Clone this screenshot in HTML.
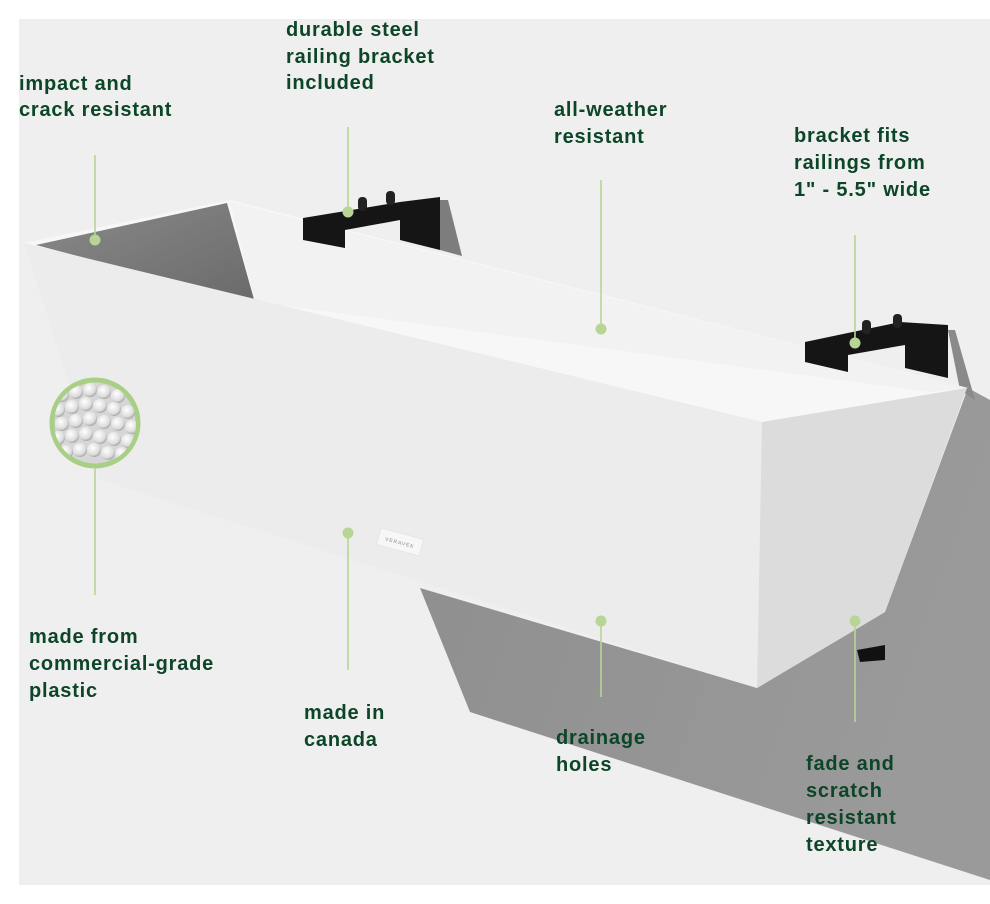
<!DOCTYPE html>
<html><head><meta charset="utf-8"><style>
html,body{margin:0;padding:0;background:#fff;}
body{width:990px;height:904px;position:relative;overflow:hidden;font-family:"Liberation Sans",sans-serif;}
svg{position:absolute;left:0;top:0;}
</style></head><body>
<svg width="990" height="904" viewBox="0 0 990 904" xmlns="http://www.w3.org/2000/svg">
<defs>
<linearGradient id="shadow" x1="0" y1="0" x2="1" y2="0.3">
<stop offset="0" stop-color="#8e8e8e"/><stop offset="1" stop-color="#9a9a9a"/>
</linearGradient>
<linearGradient id="inner" x1="0" y1="0" x2="1" y2="1">
<stop offset="0" stop-color="#8a8a8a"/><stop offset="1" stop-color="#6a6a6a"/>
</linearGradient>
<radialGradient id="ball" cx="0.4" cy="0.35" r="0.7">
<stop offset="0" stop-color="#ffffff"/><stop offset="0.7" stop-color="#dcdcdc"/><stop offset="1" stop-color="#9a9a9a"/>
</radialGradient>
<clipPath id="circ"><circle cx="95" cy="423" r="41"/></clipPath>
</defs>
<rect x="19" y="19" width="971" height="866" fill="#efefef"/>
<polygon points="420,588 757,688 885,612 968,388 990,400 990,880 470,712" fill="url(#shadow)"/>
<polygon points="440,200 448,200 462,256 440,250" fill="#7d7d7d"/>
<polygon points="948,330 955,330 975,400 960,390" fill="#8a8a8a"/>
<polygon points="24,243 230,200 968,388 762,422" fill="#f7f7f7"/>
<polygon points="230,202 968,388 930,392 255,302" fill="#f2f2f2"/>
<polygon points="36,245 227,203 255,303" fill="url(#inner)"/>
<polygon points="24,243 762,422 757,688 100,480" fill="#ececec"/>
<polygon points="762,422 967,388 885,612 757,688" fill="#dcdcdc"/>
<polygon points="857,650 885,645 885,660 860,662" fill="#111"/>
<g transform="translate(381,528) rotate(15)"><rect width="44" height="17" fill="#f7f7f7" stroke="#ddd" stroke-width="0.5"/><text x="22" y="11" font-size="5" text-anchor="middle" fill="#888" letter-spacing="1">VERAVEK</text></g>
<polygon points="303,218 400,202 440,197 440,250 400,240 400,220 345,230 345,248 303,240" fill="#151515"/>
<rect x="358" y="197" width="9" height="14" rx="4" fill="#222"/>
<rect x="386" y="191" width="9" height="14" rx="4" fill="#222"/>
<polygon points="805,342 900,322 948,325 948,378 905,368 905,345 848,355 848,372 805,362" fill="#151515"/>
<rect x="862" y="320" width="9" height="14" rx="4" fill="#222"/>
<rect x="893" y="314" width="9" height="14" rx="4" fill="#222"/>
<circle cx="95" cy="423" r="43" fill="#d6d6d6" stroke="#a9cf86" stroke-width="5"/>
<g clip-path="url(#circ)">
<g fill="url(#ball)">
<circle cx="62" cy="395" r="7"/><circle cx="76" cy="392" r="7"/><circle cx="90" cy="390" r="7"/><circle cx="104" cy="392" r="7"/><circle cx="118" cy="396" r="7"/>
<circle cx="58" cy="410" r="7"/><circle cx="72" cy="407" r="7"/><circle cx="86" cy="404" r="7"/><circle cx="100" cy="406" r="7"/><circle cx="114" cy="409" r="7"/><circle cx="128" cy="412" r="7"/>
<circle cx="62" cy="424" r="7"/><circle cx="76" cy="421" r="7"/><circle cx="90" cy="419" r="7"/><circle cx="104" cy="422" r="7"/><circle cx="118" cy="424" r="7"/><circle cx="132" cy="427" r="7"/>
<circle cx="58" cy="438" r="7"/><circle cx="72" cy="436" r="7"/><circle cx="86" cy="434" r="7"/><circle cx="100" cy="437" r="7"/><circle cx="114" cy="439" r="7"/><circle cx="128" cy="441" r="7"/>
<circle cx="66" cy="452" r="7"/><circle cx="80" cy="450" r="7"/><circle cx="94" cy="450" r="7"/><circle cx="108" cy="453" r="7"/><circle cx="122" cy="454" r="7"/>
</g></g>
<g stroke="#b7d594" stroke-width="1.6">
<line x1="95" y1="155" x2="95" y2="240"/>
<line x1="348" y1="127" x2="348" y2="212"/>
<line x1="601" y1="180" x2="601" y2="329"/>
<line x1="855" y1="235" x2="855" y2="343"/>
<line x1="95" y1="468" x2="95" y2="595"/>
<line x1="348" y1="533" x2="348" y2="670"/>
<line x1="601" y1="621" x2="601" y2="697"/>
<line x1="855" y1="621" x2="855" y2="722"/>
</g>
<g fill="#b7d594">
<circle cx="95" cy="240" r="5.5"/><circle cx="348" cy="212" r="5.5"/><circle cx="601" cy="329" r="5.5"/><circle cx="855" cy="343" r="5.5"/>
<circle cx="348" cy="533" r="5.5"/><circle cx="601" cy="621" r="5.5"/><circle cx="855" cy="621" r="5.5"/>
</g>
<g fill="#0c4527" font-family="Liberation Sans, sans-serif" font-size="20" font-weight="bold" letter-spacing="0.8">
<text x="19" y="90">impact and</text><text x="19" y="116">crack resistant</text>
<text x="286" y="36">durable steel</text><text x="286" y="63">railing bracket</text><text x="286" y="89">included</text>
<text x="554" y="116">all-weather</text><text x="554" y="143">resistant</text>
<text x="794" y="142">bracket fits</text><text x="794" y="169">railings from</text><text x="794" y="196">1" - 5.5" wide</text>
<text x="29" y="643">made from</text><text x="29" y="670">commercial-grade</text><text x="29" y="697">plastic</text>
<text x="304" y="719">made in</text><text x="304" y="746">canada</text>
<text x="556" y="744">drainage</text><text x="556" y="771">holes</text>
<text x="806" y="770">fade and</text><text x="806" y="797">scratch</text><text x="806" y="824">resistant</text><text x="806" y="851">texture</text>
</g>
</svg>
</body></html>
